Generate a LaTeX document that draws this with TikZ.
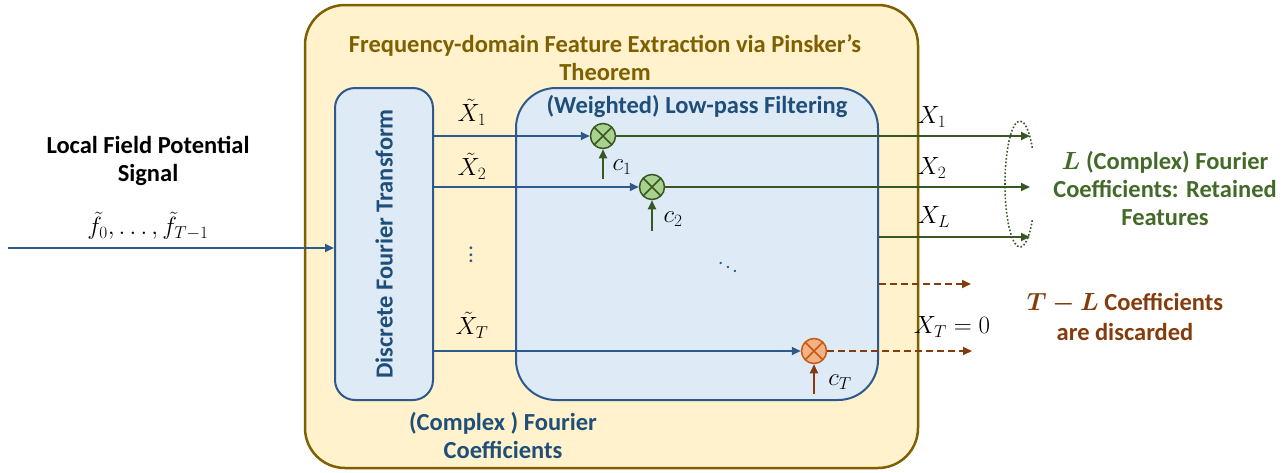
\documentclass[tikz,border=0pt]{standalone}
\usepackage{fontspec}
\usepackage{bm}
\setmainfont{Carlito}
\usetikzlibrary{arrows.meta, positioning}

\definecolor{panelfill}{RGB}{255,242,204}
\definecolor{paneldraw}{RGB}{127,96,0}
\definecolor{blockfill}{RGB}{222,235,247}
\definecolor{blockdraw}{RGB}{46,89,140}
\definecolor{bluetext}{RGB}{31,78,121}
\definecolor{keepgreen}{RGB}{56,87,35}
\definecolor{keeptext}{RGB}{67,106,40}
\definecolor{keepfill}{RGB}{169,209,142}
\definecolor{dropbrown}{RGB}{132,60,12}
\definecolor{dropdraw}{RGB}{197,90,17}
\definecolor{dropfill}{RGB}{244,177,131}

\tikzset{
  lbl/.style={font=\fontsize{25}{28}\selectfont, inner sep=1pt},
  head/.style={font=\fontsize{24.5}{28}\selectfont\bfseries, align=center},
  dotsy/.style={font=\fontsize{14.4}{15}\selectfont, text=blockdraw, inner sep=0pt},
  block/.style={draw=blockdraw, fill=blockfill, line width=2pt},
  mult/.style={circle, draw=#1, line width=1.5pt, minimum size=25pt, inner sep=0pt,
    path picture={\draw[#1, line width=1.5pt]
      (path picture bounding box.south west) -- (path picture bounding box.north east)
      (path picture bounding box.north west) -- (path picture bounding box.south east);}},
  sig/.style={line width=1.8pt, -{Triangle[length=9pt,width=8pt]}},
}

\begin{document}
\begin{tikzpicture}[x=1pt, y=-1pt]
\useasboundingbox (0,0) rectangle (1286,472);

% Pinsker panel
\node[draw=paneldraw, fill=panelfill, line width=2.5pt, rounded corners=40pt,
  minimum width=613pt, minimum height=463pt] (panel) at (611.5,236.5) {};
\node[head, text=paneldraw] (ptitle) at (605,58) {Frequency-domain Feature Extraction via Pinsker’s\\Theorem};

% DFT block
\node[block, rounded corners=20pt, minimum width=98pt, minimum height=312pt] (dft) at (384,244) {};
\node[head, text=bluetext, rotate=90] (dftlbl) at (dft.center) {Discrete Fourier Transform};

% filter block
\node[block, rounded corners=40pt, minimum width=362pt, minimum height=312pt] (lpf) at (697,244) {};
\node[head, text=bluetext] (lpflbl) at (697,106) {(Weighted) Low-pass Filtering};
\node[head, text=bluetext] (coefflbl) at (503,435) {(Complex ) Fourier\\Coefficients};

% input signal
\node[head] (srclbl) at (148,161) {Local Field Potential\\Signal};
\node[lbl] (srcmath) at (148,226) {$\tilde{f}_0, \dots, \tilde{f}_{T-1}$};
\coordinate (src) at (8,248);
\draw[sig, blockdraw] (src) -- (src -| dft.west);

% multipliers
\node[mult=keepgreen, fill=keepfill] (m1) at (603,136) {};
\node[mult=keepgreen, fill=keepfill] (m2) at (652,187) {};
\node[mult=dropdraw, fill=dropfill] (mT) at (814,351) {};

% DFT outputs
\draw[sig, blockdraw] (dft.east |- m1) -- (m1);
\draw[sig, blockdraw] (dft.east |- m2) -- (m2);
\draw[sig, blockdraw] (dft.east |- mT) -- (mT);
\node[lbl] (xt1) at (472,112) {$\tilde{X}_1$};
\node[lbl] (xt2) at (472,166) {$\tilde{X}_2$};
\node[dotsy] (vd) at (471,250) {\scalebox{1.6}{$\vdots$}};
\node[lbl] (xtT) at (472,325) {$\tilde{X}_T$};
\node[dotsy] (dd) at (728,263) {\scalebox{1.35}{$\ddots$}};

% weights
\coordinate (w1) at (603,179);
\coordinate (w2) at (652,231);
\coordinate (wT) at (814,394);
\draw[sig, keepgreen] (w1) -- (m1);
\draw[sig, keepgreen] (w2) -- (m2);
\draw[sig, dropbrown] (wT) -- (mT);
\node[lbl] (c1) at (622,167) {$c_1$};
\node[lbl] (c2) at (673,219) {$c_2$};
\node[lbl] (cT) at (840,382) {$c_T$};

% retained coefficients
\coordinate (o1) at (1030,136);
\coordinate (o2) at (1030,187);
\coordinate (oL) at (1030,237);
\draw[sig, keepgreen] (m1) -- (o1);
\draw[sig, keepgreen] (m2) -- (o2);
\draw[sig, keepgreen] (lpf.east |- oL) -- (oL);
\node[lbl] (x1) at (932,117) {$X_1$};
\node[lbl] (x2) at (932,168) {$X_2$};
\node[lbl] (xL) at (934,217) {$X_L$};
\draw[keepgreen, line width=1.6pt, dotted] (1020,184) ++(35:15pt and 63pt)
  arc[start angle=35, end angle=325, x radius=15pt, y radius=63pt];
\node[head, text=keeptext] (keeplbl) at (1165,188) {$\bm{L}$ (Complex) Fourier\\Coefficients: Retained\\Features};

% discarded coefficients
\coordinate (d1) at (971,284);
\coordinate (dT) at (972,351);
\draw[sig, dropbrown, dash pattern=on 7pt off 4pt] (lpf.east |- d1) -- (d1);
\draw[sig, dropbrown, dash pattern=on 7pt off 4pt] (mT) -- (dT);
\node[lbl] (xT) at (952,327) {$X_T = 0$};
\node[head, text=dropbrown, font=\fontsize{24.5}{30}\selectfont\bfseries] (droplbl) at (1125,317) {$\bm{T-L}$ Coefficients\\are discarded};
\end{tikzpicture}
\end{document}
